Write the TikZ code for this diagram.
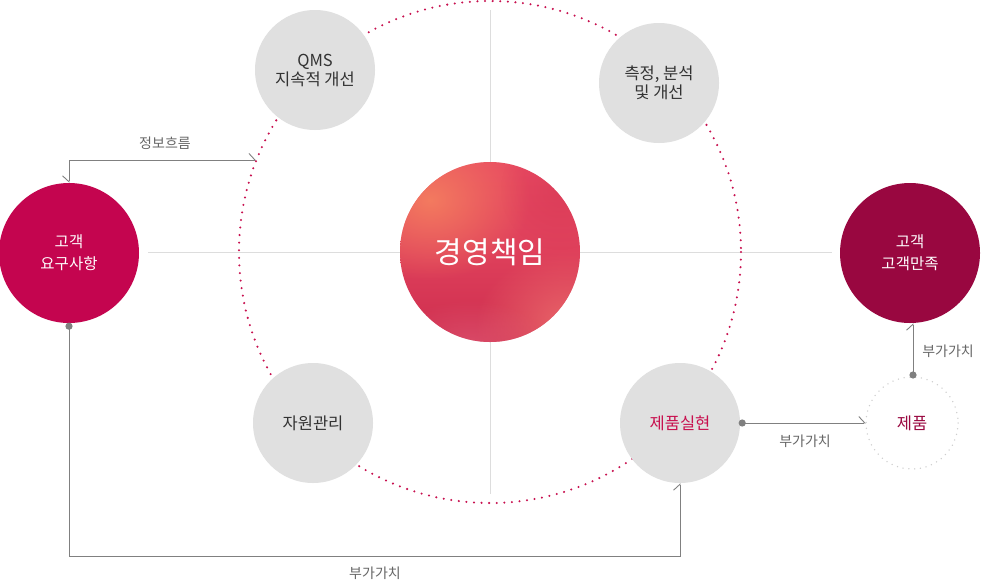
\documentclass[tikz,border=0pt]{standalone}
\usepackage{fontspec}
\setmainfont{Noto Sans CJK KR}
\usetikzlibrary{arrows.meta,fadings}
\definecolor{reqred}{HTML}{C4054F}
\definecolor{satred}{HTML}{990740}
\definecolor{ringdot}{HTML}{C8104F}
\definecolor{graybg}{HTML}{E0E0E0}
\definecolor{graytxt}{HTML}{333333}
\definecolor{conngray}{HTML}{808080}
\definecolor{labgray}{HTML}{666666}
\definecolor{crossgray}{HTML}{DDDDDD}
\definecolor{gradA}{HTML}{CD2D4E}
\definecolor{gradB}{HTML}{E84A62}
\definecolor{gradC}{HTML}{F5805F}
\definecolor{gradD}{HTML}{EE706E}
\definecolor{gradE}{HTML}{E2607A}
\tikzfading[name=softcirc, inner color=transparent!0, outer color=transparent!100]
\tikzset{
  graycirc/.style={circle, fill=graybg, minimum size=120pt, inner sep=0pt, align=center,
    text=graytxt, font=\fontsize{16.5}{19}\selectfont},
  bigcirc/.style={circle, minimum size=140pt, inner sep=0pt, align=center, text=white,
    font=\fontsize{15.5}{22}\selectfont},
  conn/.style={draw=conngray, line width=0.9pt},
  barb/.style={-{Straight Barb[harpoon, length=6pt, width=13pt, line width=0.9pt]}},
  lab/.style={text=labgray, font=\fontsize{14}{15}\selectfont, inner sep=0pt},
  cdot/.style={fill=conngray},
}
\begin{document}
\begin{tikzpicture}[x=1pt,y=-1pt]
\useasboundingbox[fill=white] (0,0) rectangle (981,581);
% cross lines
\coordinate (vtop) at (490,10);
\coordinate (vbot) at (490,494);
\coordinate (hl) at (148,252);
\coordinate (hr) at (832,252);
\draw[crossgray, line width=0.8pt] (vtop) -- (vbot);
\draw[crossgray, line width=0.8pt] (hl) -- (hr);
% dotted ring
\coordinate (ringc) at (490,252);
\draw[ringdot, line width=2.3pt, line cap=round, dash pattern=on 0pt off 7.6pt] (ringc) circle (251);
% gray circles
\node[graycirc] (qms) at (315,70) {QMS\\지속적 개선};
\node[graycirc] (meas) at (659,83) {측정, 분석\\및 개선};
\node[graycirc] (res) at (313,423) {자원관리};
\node[graycirc, text=ringdot] (realize) at (680,423) {제품실현};
% center
\node[circle, minimum size=180pt, inner sep=0pt] (mgmt) at (490,252) {};
\begin{scope}
  \clip (mgmt.center) circle (90);
  \shade[shading angle=-135, top color=gradB, bottom color=gradA, middle color=gradA!35!gradB] (400,162) rectangle (580,342);
  \fill[gradC, opacity=0.9, path fading=softcirc] (430,200) ellipse (100 and 80);
  \fill[gradD, opacity=0.85, path fading=softcirc] (570,325) ellipse (95 and 75);
  \fill[gradE, opacity=0.6, path fading=softcirc] (470,345) ellipse (80 and 45);
  \fill[gradA, opacity=0.35, path fading=softcirc] (560,190) ellipse (60 and 60);
\end{scope}
\node[text=white, font=\fontsize{30}{32}\selectfont] at (mgmt.center) {경영책임};
% customer circles
\node[bigcirc, fill=reqred] (req) at (69,253) {고객\\요구사항};
\node[bigcirc, fill=satred] (sat) at (910,253) {고객\\고객만족};
% product circle
\node[circle, minimum size=92pt, inner sep=0pt, text=satred, font=\fontsize{16.5}{19}\selectfont] (prod) at (912,423) {제품};
\draw[graybg!80!gray, line width=1.5pt, line cap=round, dash pattern=on 0pt off 5.8pt] (prod.center) circle (46);
% connectors
\coordinate (infoTop) at (69,160);
\coordinate (infoEnd) at (256,160);
\draw[conn, {Straight Barb[harpoon, swap, length=6pt, width=13pt, line width=0.9pt]}-{Straight Barb[harpoon, length=6pt, width=13pt, line width=0.9pt]}] (req.north) -- (infoTop) -- (infoEnd);
\node[lab] at (165,143) {정보흐름};
\coordinate (bl) at (69,556);
\fill[cdot] ([yshift=-3pt]req.south) circle (3.6);
\draw[conn, barb] ([yshift=-3pt]req.south) -- (bl) -| (realize.south);
\node[lab] at (375,573) {부가가치};
\fill[cdot] ([xshift=2pt]realize.east) circle (3.6);
\draw[conn, barb] ([xshift=2pt]realize.east) -- (prod.west);
\node[lab] at (805,441) {부가가치};
\coordinate (prodTop) at (913,375);
\fill[cdot] (prodTop) circle (3.6);
\draw[conn, barb] (prodTop) -- (prodTop |- sat.south);
\node[lab] at (948,351) {부가가치};
\end{tikzpicture}
\end{document}
